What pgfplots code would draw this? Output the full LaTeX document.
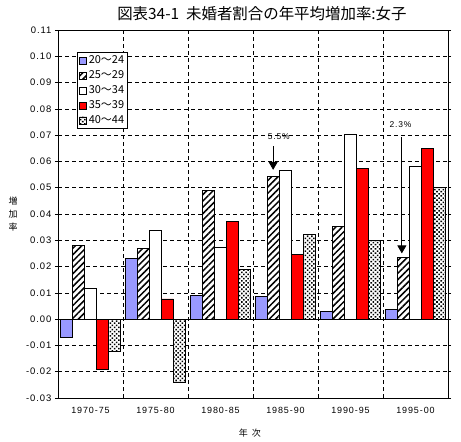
\documentclass[border=0pt]{standalone}
\usepackage{fontspec}
\setmainfont{Liberation Sans}
\newfontfamily\cjk{Noto Sans CJK JP}
\newfontfamily\spaced[LetterSpace=10]{Liberation Sans}
\usepackage{pgfplots}
\usepackage{pgfplotstable}
\pgfplotsset{compat=1.18}
\usetikzlibrary{patterns.meta,arrows.meta}

\definecolor{peri}{HTML}{9999FF}
\definecolor{bred}{HTML}{FF0000}

\pgfplotstableread{
x y
0 -0.0070
1 0.0231
2 0.0090
3 0.0086
4 0.0029
5 0.0038
}\sA
\pgfplotstableread{
x y
0 0.0280
1 0.0269
2 0.0491
3 0.0544
4 0.0353
5 0.0235
}\sB
\pgfplotstableread{
x y
0 0.0117
1 0.0337
2 0.0273
3 0.0566
4 0.0703
5 0.0582
}\sC
\pgfplotstableread{
x y
0 -0.0191
1 0.0077
2 0.0372
3 0.0246
4 0.0573
5 0.0650
}\sD
\pgfplotstableread{
x y
0 -0.0124
1 -0.0239
2 0.0189
3 0.0322
4 0.0299
5 0.0501
}\sE

\begin{document}
\begin{tikzpicture}
\begin{axis}[
  scale only axis, width=390bp, height=368bp,
  xmin=-0.5, xmax=5.5, ymin=-0.03, ymax=0.11,
  ybar=0pt, bar width=11.9bp,
  xtick={0,1,2,3,4,5},
  xticklabels={1970-75,1975-80,1980-85,1985-90,1990-95,1995-00},
  minor xtick={0.5,1.5,2.5,3.5,4.5},
  ytick={-0.03,-0.02,-0.01,0,0.01,0.02,0.03,0.04,0.05,0.06,0.07,0.08,0.09,0.10,0.11},
  yticklabels={-0.03,-0.02,-0.01,0.00,0.01,0.02,0.03,0.04,0.05,0.06,0.07,0.08,0.09,0.10,0.11},
  y tick label style={font=\spaced\fontsize{9.5}{10}\selectfont},
  x tick label style={font=\spaced\fontsize{9}{10}\selectfont, yshift=-3bp},
  ymajorgrids, xminorgrids,
  major grid style={dash pattern=on 4bp off 3bp, black, line width=0.6pt},
  minor grid style={dash pattern=on 4bp off 3bp, black, line width=0.6pt},
  axis line style={black, line width=0.8pt},
  x tick style={draw=none},
  minor x tick style={draw=none},
  y tick style={black, line width=0.6pt},
  tick align=outside, major tick length=3bp,
  clip=false,
  every axis plot/.append style={draw=black, line width=0.8pt},
  legend image code/.code={\draw[#1] (0bp,-3.5bp) rectangle (7bp,3.5bp);},
  legend style={at={(rel axis cs:0.049,0.940)}, anchor=north west,
    font=\cjk\fontsize{11}{12}\selectfont, draw=black, line width=0.8pt,
    inner sep=1.5bp, row sep=1.5bp, cells={anchor=west}},
  legend cell align=left,
]
\addplot[fill=peri] table[x=x,y=y] {\sA};
\addplot[fill=white, postaction={pattern={Lines[angle=45,distance=4.5bp,line width=1.5bp]}}] table[x=x,y=y] {\sB};
\addplot[fill=white] table[x=x,y=y] {\sC};
\addplot[fill=bred] table[x=x,y=y] {\sD};
\addplot[fill=white, postaction={pattern={Dots[angle=45,distance=3bp,radius=1.1bp]}}] table[x=x,y=y] {\sE};
\legend{20〜24,25〜29,30〜34,35〜39,40〜44}

\draw[black, line width=0.8pt] (axis cs:-0.5,0) -- (axis cs:5.5,0);

\node[font=\spaced\fontsize{8.5}{9}\selectfont] at (axis cs:2.895,0.0693) {5.5\%};
\draw[black, line width=0.8pt, -{Triangle[width=9bp,length=8bp]}] (axis cs:2.81,0.0658) -- (axis cs:2.81,0.0568);
\node[font=\spaced\fontsize{8.5}{9}\selectfont] at (axis cs:4.77,0.0742) {2.3\%};
\draw[black, line width=0.8pt, -{Triangle[width=9bp,length=8bp]}] (axis cs:4.79,0.0693) -- (axis cs:4.79,0.0250);

\node[font=\cjk\fontsize{9}{13}\selectfont, align=center] at (rel axis cs:0,0.5) [xshift=-45bp] {増\\加\\率};
\node[font=\cjk\fontsize{9}{10}\selectfont] at (rel axis cs:0.492,0) [yshift=-35bp] {年\ \ 次};
\node[font=\cjk\fontsize{15.5}{16}\selectfont] at (rel axis cs:0.523,1) [yshift=16bp] {図表34-1\ \ 未婚者割合の年平均増加率:女子};
\end{axis}
\pgfresetboundingbox
\path[use as bounding box] ([xshift=-58bp,yshift=30bp]current axis.north west) rectangle ([xshift=13bp,yshift=-44bp]current axis.south east);
\end{tikzpicture}
\end{document}
